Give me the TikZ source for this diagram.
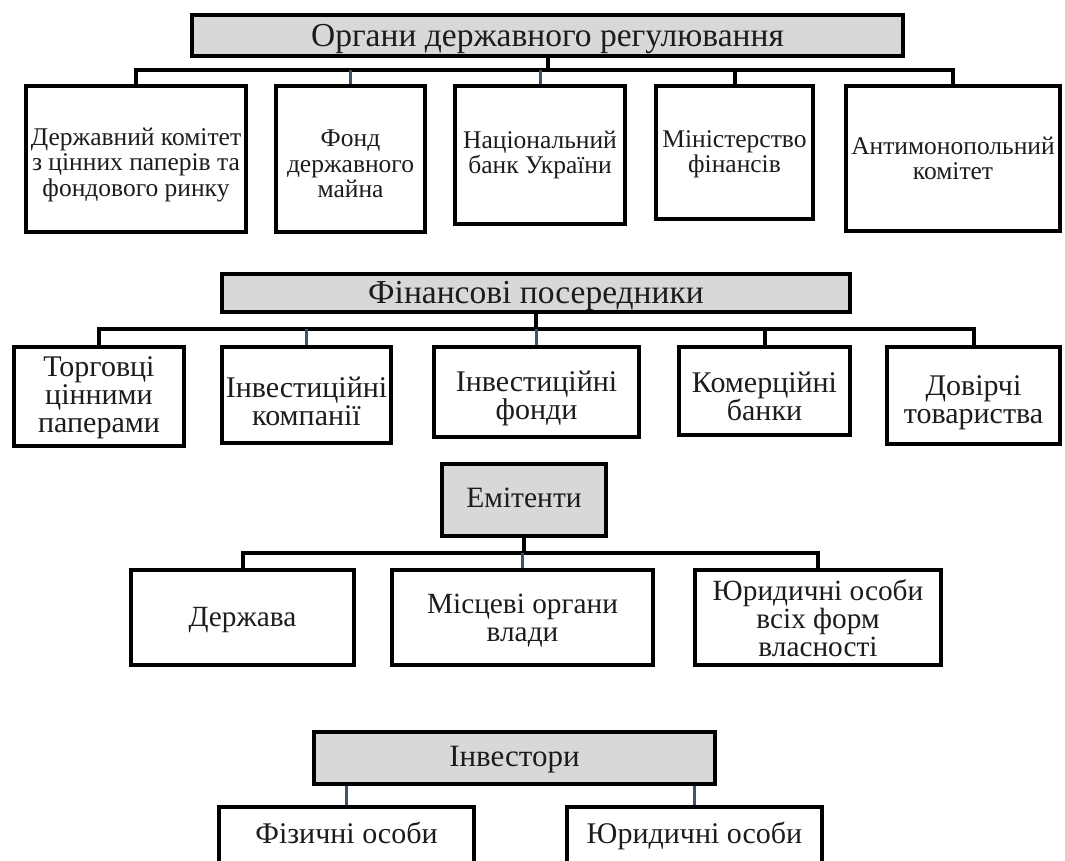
\documentclass[tikz,border=0pt]{standalone}
\usepackage{fontspec}
\setmainfont{Liberation Serif}
\definecolor{txt}{RGB}{28,28,28}
\definecolor{hdr}{RGB}{216,216,216}
\definecolor{slate}{RGB}{62,84,110}
\tikzset{
  box/.style={draw=black, line width=4.5pt, fill=white, rectangle, inner sep=0pt, anchor=center},
  hbox/.style={box, fill=hdr},
  lbl/.style={inner sep=0pt, align=center, text=txt, anchor=center},
  blbl/.style={inner sep=0pt, text=txt, anchor=base},
  fa/.style={font=\fontsize{25.5}{25.5}\selectfont},
  fb/.style={font=\fontsize{30}{28}\selectfont},
  fc/.style={font=\fontsize{29.3}{28}\selectfont},
  fh/.style={font=\fontsize{33.5}{34}\selectfont},
  conn/.style={draw=black, line width=4pt},
  sdrop/.style={draw=slate, line width=3pt},
}
\begin{document}
\begin{tikzpicture}[x=1pt,y=-1pt]
\useasboundingbox (0,0) rectangle (1065,861);
\fill[white] (0,0) rectangle (1065,861);

% ---------- Row 1 ----------
\coordinate (bus1) at (0,70);
\node[hbox, minimum width=711, minimum height=41] (t1) at (547.5,35.5) {};
\node[blbl, fh] (t1t) at (547.5,47) {Органи державного регулювання};
\node[box, minimum width=220, minimum height=146] (a1) at (136,159) {};
\node[box, minimum width=149, minimum height=146] (a2) at (350.5,159) {};
\node[box, minimum width=170, minimum height=138] (a3) at (540,155) {};
\node[box, minimum width=157, minimum height=133] (a4) at (734.5,152.5) {};
\node[box, minimum width=214, minimum height=145] (a5) at (953,158.5) {};
\node[lbl, fa] (a1t) at ([yshift=-6pt]a1.center) {Державний комітет\\з цінних паперів та\\фондового ринку};
\node[lbl, fa] (a2t) at ([yshift=-5pt]a2.center) {Фонд\\державного\\майна};
\node[lbl, fa] (a3t) at (a3.center) {Національний\\банк України};
\node[lbl, fa] (a4t) at ([yshift=-2pt]a4.center) {Міністерство\\фінансів};
\node[lbl, fa] (a5t) at (a5.center) {Антимонопольний\\комітет};
\draw[conn] (t1.south) -- (t1.south |- bus1);
\draw[conn] (a1.north) |- (t1.south |- bus1) -| (a4.north);
\draw[conn] (a4.north |- bus1) -| (a5.north);
\draw[sdrop] (a2.north) -- (a2.north |- bus1);
\draw[sdrop] (a3.north) -- (a3.north |- bus1);

% ---------- Row 2 ----------
\coordinate (bus2) at (0,329);
\node[hbox, minimum width=628, minimum height=38] (t2) at (536,293) {};
\node[blbl, fh] (t2t) at (536,303) {Фінансові посередники};
\node[box, minimum width=170, minimum height=99] (b1) at (99,396.5) {};
\node[box, minimum width=169, minimum height=96] (b2) at (306.5,395) {};
\node[box, minimum width=205, minimum height=90] (b3) at (536.5,392) {};
\node[box, minimum width=171, minimum height=88] (b4) at (764.5,391) {};
\node[box, minimum width=173, minimum height=97] (b5) at (973.5,395.5) {};
\node[lbl, fb] (b1t) at ([yshift=-1pt]b1.center) {Торговці\\цінними\\паперами};
\node[lbl, fb] (b2t) at ([yshift=-6pt]b2.center) {Інвестиційні\\компанії};
\node[lbl, fb] (b3t) at ([yshift=-6pt]b3.center) {Інвестиційні\\фонди};
\node[lbl, fb] (b4t) at ([yshift=-5pt]b4.center) {Комерційні\\банки};
\node[lbl, fb] (b5t) at ([yshift=-7pt]b5.center) {Довірчі\\товариства};
\draw[conn] (t2.south) -- (t2.south |- bus2);
\draw[conn] (b1.north) |- (t2.south |- bus2) -| (b4.north);
\draw[conn] (b4.north |- bus2) -| (b5.north);
\draw[sdrop] (b2.north) -- (b2.north |- bus2);
\draw[sdrop] (b3.north) -- (b3.north |- bus2);

% ---------- Row 3 ----------
\coordinate (bus3) at (0,553);
\node[hbox, minimum width=164, minimum height=72] (t3) at (524,500) {};
\node[blbl, font=\fontsize{29.5}{30}\selectfont] (t3t) at (524,507.5) {Емітенти};
\node[box, minimum width=223, minimum height=95] (c1) at (242.5,617.5) {};
\node[box, minimum width=261, minimum height=95] (c2) at (522.5,617.5) {};
\node[box, minimum width=246, minimum height=95] (c3) at (818,617.5) {};
\node[lbl, fc] (c1t) at ([yshift=-3pt]c1.center) {Держава};
\node[lbl, fc] (c2t) at ([yshift=-3pt]c2.center) {Місцеві органи\\влади};
\node[lbl, fc] (c3t) at ([yshift=-1pt]c3.center) {Юридичні особи\\всіх форм\\власності};
\draw[conn] (t3.south) -- (t3.south |- bus3);
\draw[conn] (c1.north) |- (t3.south |- bus3) -| (c3.north);
\draw[sdrop] (c2.north) -- (c2.north |- bus3);

% ---------- Row 4 ----------
\node[hbox, minimum width=401, minimum height=52] (t4) at (514.5,758) {};
\node[blbl, font=\fontsize{31}{32}\selectfont] (t4t) at (514.5,766) {Інвестори};
\node[box, minimum width=255, minimum height=80] (d1) at (346.5,847) {};
\node[box, minimum width=255, minimum height=80] (d2) at (694.5,847) {};
\node[blbl, font=\fontsize{30}{31}\selectfont] (d1t) at (346.5,843) {Фізичні особи};
\node[blbl, font=\fontsize{30}{31}\selectfont] (d2t) at (694.5,843) {Юридичні особи};
\draw[sdrop] (d1.north) -- (d1.north |- t4.south);
\draw[sdrop] (d2.north) -- (d2.north |- t4.south);
\end{tikzpicture}
\end{document}
